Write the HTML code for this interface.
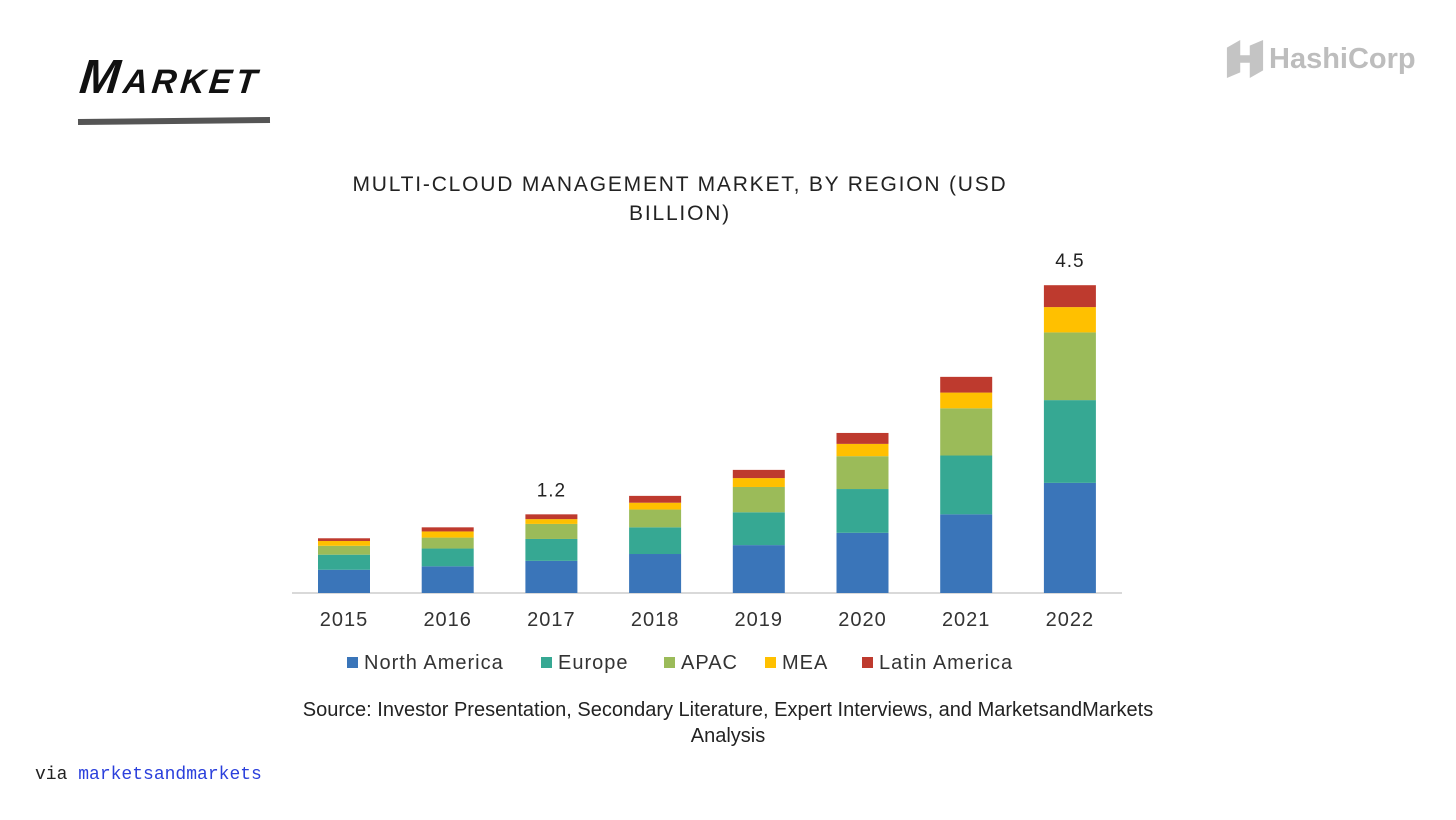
<!DOCTYPE html>
<html><head><meta charset="utf-8"><style>
body{margin:0;width:1456px;height:820px;background:#fff;position:relative;overflow:hidden;font-family:"Liberation Sans",sans-serif}
.abs{position:absolute}
</style></head><body>
<div class="abs" style="left:80px;top:50px;font:italic 900 48px 'Liberation Sans',sans-serif;font-variant:small-caps;letter-spacing:4px;color:#111;transform:skewX(-6deg)">Market</div>
<div class="abs" style="left:78px;top:118px;width:192px;height:6px;background:#555;transform:rotate(-0.6deg)"></div>
<div class="abs" style="left:1225px;top:37px;display:flex;align-items:center;color:#bbb">
<svg width="40" height="44" viewBox="0 0 42 44"><path d="M2 10 L16 2 V36 L2 42 Z M26 8 L40 2 V34 L26 42 Z M16 18 H26 V26 H16 Z" fill="#c4c4c4"/></svg>
<span style="font:bold 29px 'Liberation Sans',sans-serif;color:#bdbdbd;margin-left:4px">HashiCorp</span></div>
<div class="abs" style="left:280px;top:170px;width:800px;text-align:center;font-size:21px;line-height:29px;letter-spacing:1.8px;color:#222">MULTI-CLOUD MANAGEMENT MARKET, BY REGION (USD<br>BILLION)</div>
<svg class="abs" style="left:0;top:0" width="1456" height="820" id="chart"></svg>
<div class="abs" style="left:228px;top:697px;width:1000px;text-align:center;font-size:20px;line-height:26px;color:#222">Source: Investor Presentation, Secondary Literature, Expert Interviews, and MarketsandMarkets<br>Analysis</div>
<div class="abs" style="left:35px;top:765px;font:18px 'Liberation Mono',monospace;color:#222">via <span style="color:#2a3fdc">marketsandmarkets</span></div>
<script>
const years=["2015","2016","2017","2018","2019","2020","2021","2022"];
const northAmerica=[0.34,0.39,0.47,0.57,0.70,0.88,1.15,1.61];
const europe=[0.22,0.26,0.32,0.39,0.48,0.64,0.86,1.21];
const apac=[0.13,0.16,0.22,0.26,0.37,0.48,0.69,0.99];
const mea=[0.07,0.09,0.07,0.10,0.13,0.18,0.23,0.37];
const latinAmerica=[0.04,0.06,0.07,0.10,0.12,0.16,0.23,0.32];
const seriesNames=["North America","Europe","APAC","MEA","Latin America"];
const labels={"2017":"1.2","2022":"4.5"};
const colors=["#3a75b9","#36a893","#9bbb59","#ffc000","#be3a2e"];
const series=[northAmerica,europe,apac,mea,latinAmerica];
const svg=document.getElementById('chart');const NS="http://www.w3.org/2000/svg";
const base=593,scale=68.4,x0=344,step=103.7,bw=52;
const y=v=>base-v*scale, xc=i=>x0+i*step;
function mk(t,a){const e=document.createElementNS(NS,t);for(const k in a)e.setAttribute(k,a[k]);svg.appendChild(e);return e;}
const ax=mk('line',{x1:292,x2:1122,y1:base,y2:base,stroke:'#d9d9d9','stroke-width':2});


years.forEach((yr,i)=>{let cum=0;
 series.forEach((s,k)=>{const r=mk('rect',{x:xc(i)-bw/2,y:y(cum+s[i]),width:bw,height:s[i]*scale,fill:colors[k]});
  
  cum+=s[i];});
 const t=mk('text',{x:xc(i),y:626,'text-anchor':'middle','font-size':20,fill:'#333','font-family':'Liberation Sans, sans-serif','letter-spacing':1});t.textContent=yr;
 
 
 if(labels[yr]){const l=mk('text',{x:xc(i),y:y(cum)-18,'text-anchor':'middle','font-size':19,fill:'#222','font-family':'Liberation Sans, sans-serif','letter-spacing':1});l.textContent=labels[yr];
  
  }
});
const lx=[347,541,664,765,862];
seriesNames.forEach((n,k)=>{const g=mk('g',{});
 
 
 const r=document.createElementNS(NS,'rect');r.setAttribute('x',lx[k]);r.setAttribute('y',657);r.setAttribute('width',11);r.setAttribute('height',11);r.setAttribute('fill',colors[k]);g.appendChild(r);
 const t=document.createElementNS(NS,'text');t.setAttribute('x',lx[k]+17);t.setAttribute('y',669);t.setAttribute('font-size',20);t.setAttribute('letter-spacing',1);t.setAttribute('fill','#333');t.setAttribute('font-family','Liberation Sans, sans-serif');t.textContent=n;g.appendChild(t);
});
</script>
</body></html>
